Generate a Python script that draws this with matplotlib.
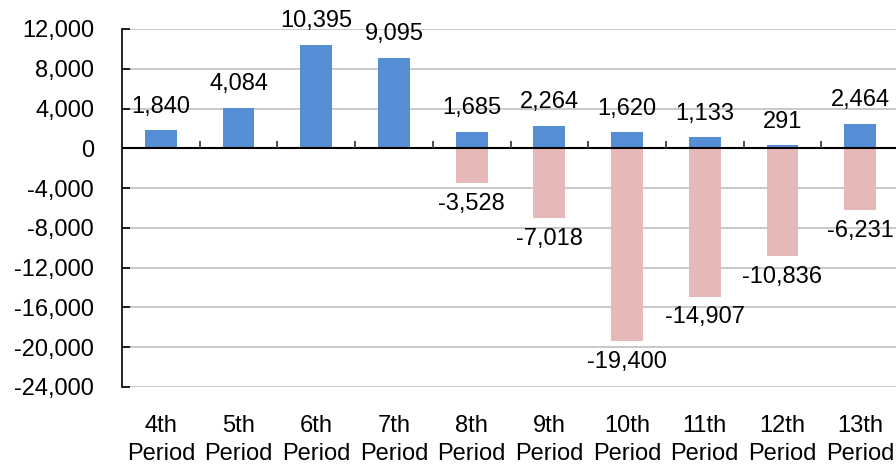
import matplotlib
matplotlib.use("Agg")
import matplotlib.pyplot as plt
import numpy as np
from matplotlib.ticker import FuncFormatter

plt.rcParams['font.family'] = ['Liberation Sans', 'DejaVu Sans']

categories = ["4th\nPeriod", "5th\nPeriod", "6th\nPeriod", "7th\nPeriod", "8th\nPeriod",
              "9th\nPeriod", "10th\nPeriod", "11th\nPeriod", "12th\nPeriod", "13th\nPeriod"]
positive = [1840, 4084, 10395, 9095, 1685, 2264, 1620, 1133, 291, 2464]
negative = [None, None, None, None, -3528, -7018, -19400, -14907, -10836, -6231]
yticks = list(range(-24000, 12001, 4000))

blue = "#558ED5"
pink = "#E6B9B8"
fs = 17

fig = plt.figure(figsize=(8.96, 4.65), dpi=100)
ax = fig.add_axes([122/896, 1-387/465, 777/896, 358/465])

x = np.arange(len(categories))
w = 0.41
ymin, ymax = -24000, 12000

neg_vals = [v if v is not None else 0 for v in negative]
ax.bar(x, neg_vals, width=w, color=pink, zorder=2)
ax.bar(x, positive, width=w, color=blue, zorder=3)

for xi, v in zip(x, positive):
    ax.annotate(f"{v:,}", (xi, v), xytext=(0, 9), textcoords="offset points",
                ha="center", va="bottom", fontsize=fs, color="#000000")
for xi, v in zip(x, negative):
    if v is None:
        continue
    ax.annotate(f"{v:,}", (xi, v), xytext=(0, -7), textcoords="offset points",
                ha="center", va="top", fontsize=fs, color="#000000")

ax.set_xlim(-0.5, len(categories) - 0.5)
ax.set_ylim(ymin, ymax)
ax.set_yticks(yticks)
ax.yaxis.set_major_formatter(FuncFormatter(lambda v, p: f"{int(v):,}"))
ax.yaxis.grid(True, color="#BFBFBF", linewidth=1.2, zorder=0)
ax.set_axisbelow(True)

ax.set_xticks(x)
ax.set_xticklabels(categories, fontsize=fs, linespacing=1.35)
ax.tick_params(axis="x", length=0, pad=20)
ax.tick_params(axis="y", direction="in", length=6, width=1.2, labelsize=fs, pad=20)

for s in ["top", "right", "bottom"]:
    ax.spines[s].set_visible(False)
ax.spines["left"].set_color("#000000")
ax.spines["left"].set_linewidth(1.2)

# zero axis line with upward tick marks between categories
ax.axhline(0, color="#000000", linewidth=1.5, zorder=5)
bounds = np.arange(len(categories) - 1) + 0.5
tick_h = (ymax - ymin) * 7 / 358
ax.vlines(bounds, 0, tick_h, color="#404040", linewidth=1.3, zorder=5)

fig.savefig("out.png", dpi=100)
